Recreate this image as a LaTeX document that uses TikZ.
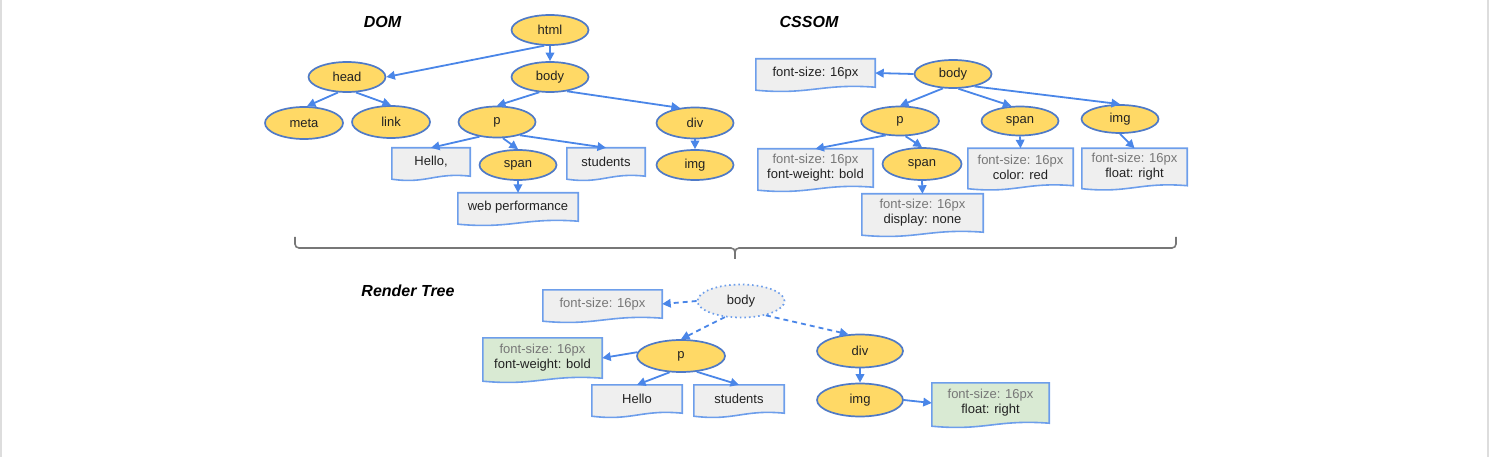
\documentclass[tikz,border=0pt]{standalone}
\usepackage{fontspec}
\setmainfont{Liberation Sans}
\usetikzlibrary{shapes.geometric,arrows.meta,backgrounds,calc}
\definecolor{elfill}{HTML}{FFD966}
\definecolor{eldraw}{HTML}{4F7AC7}
\definecolor{boxdraw}{HTML}{6D9EEB}
\definecolor{boxgrey}{HTML}{EFEFEF}
\definecolor{boxgreen}{HTML}{D9EAD3}
\definecolor{arrblue}{HTML}{4A86E8}
\definecolor{txtgrey}{HTML}{777777}
\definecolor{txtdark}{HTML}{222222}
\definecolor{bracegrey}{HTML}{777777}
\definecolor{edgegrey}{HTML}{DDDDDD}
\begin{document}
\begin{tikzpicture}[x=1pt,y=-1pt,
  font=\fontsize{13}{15}\selectfont, text=txtdark,
  el/.style={ellipse, draw=eldraw, fill=elfill, line width=1.7pt, inner sep=0pt,
    minimum width=77pt, minimum height=30pt},
  docn/.style={rectangle, inner sep=0pt, align=center},
  docshape/.style={draw=boxdraw, line width=1.6pt},
  arr/.style={draw=arrblue, line width=1.8pt, -{Triangle[length=8.5pt,width=8.5pt]}},
  darr/.style={arr, dash pattern=on 5pt off 4pt},
  ttl/.style={font=\fontsize{16}{18}\selectfont\bfseries\itshape, text=black}]
\useasboundingbox (0,0) rectangle (1489,457);
\draw[edgegrey, line width=2pt] (1,0) -- (1,457);
\draw[edgegrey, line width=2pt] (1488,0) -- (1488,457);

% titles
\node[ttl] (tdom) at (382.5,22) {DOM};
\node[ttl] (tcss) at (809,22) {CSSOM};
\node[ttl] (trt) at (408,291) {Render Tree};

% DOM
\node[el] (html) at (550,30) {html};
\node[el] (head) at (347,77) {head};
\node[el] (body) at (550,77) {body};
\node[el, minimum width=78pt, minimum height=32pt] (meta) at (304,123) {meta};
\node[el, minimum width=78pt, minimum height=32pt] (link) at (391,122) {link};
\node[el, minimum height=31pt] (p) at (497,122) {p};
\node[el, minimum height=31pt] (div) at (695,123) {div};
\node[docn, minimum width=78pt, minimum height=28pt] (hello) at (431,162) {Hello,};
\node[el] (span) at (518,165) {span};
\node[docn, minimum width=78pt, minimum height=28pt] (students) at (606,162) {students};
\node[el] (img) at (695,165) {img};
\node[docn, minimum width=120pt, minimum height=28pt] (web) at (518,207) {web performance};

% CSSOM
\node[docn, minimum width=119pt, minimum height=28pt] (cfs) at (815.5,73) {font-size: 16px};
\node[el, minimum height=28pt] (cbody) at (953,74) {body};
\node[el, minimum width=78pt, minimum height=29pt] (cp) at (900,121) {p};
\node[el, minimum height=29pt] (cspan) at (1020,121) {span};
\node[el, minimum height=28pt] (cimg) at (1120,119) {img};
\node[docn, minimum width=115pt, minimum height=38pt] (cfw) at (815.5,168) {\textcolor{txtgrey}{font-size: 16px}\\font-weight: bold};
\node[el, minimum width=79pt, minimum height=32pt] (cspantwo) at (922,164) {span};
\node[docn, minimum width=121pt, minimum height=38pt] (cdisp) at (922.5,213) {\textcolor{txtgrey}{font-size: 16px}\\display: none};
\node[docn, minimum width=105pt, minimum height=37pt] (ccolor) at (1020.5,167) {\textcolor{txtgrey}{font-size: 16px}\\color: red};
\node[docn, minimum width=105pt, minimum height=37pt] (cfloat) at (1134.5,167) {\textcolor{txtgrey}{font-size: 16px}\\float: right};

% Render tree
\node[docn, minimum width=119pt, minimum height=28pt, text=txtgrey] (rfs) at (602.5,304) {font-size: 16px};
\node[el, draw=boxdraw, fill=boxgrey, dash pattern=on 1.6pt off 3pt, minimum width=87pt, minimum height=33pt] (rbody) at (741,301) {body};
\node[docn, minimum width=119pt, minimum height=40pt] (rfw) at (542.5,358) {\textcolor{txtgrey}{font-size: 16px}\\font-weight: bold};
\node[el, minimum width=88pt, minimum height=32pt] (rp) at (681,356) {p};
\node[docn, minimum width=90pt, minimum height=28pt] (rhello) at (637,399) {Hello};
\node[docn, minimum width=90pt, minimum height=28pt] (rstud) at (739,399) {students};
\node[el, minimum width=86pt, minimum height=33pt] (rdiv) at (860,351) {div};
\node[el, minimum width=86pt, minimum height=33pt] (rimg) at (860,400) {img};
\node[docn, minimum width=117pt, minimum height=40pt] (rfloat) at (990.5,403) {\textcolor{txtgrey}{font-size: 16px}\\float: right};

% document shapes
\begin{scope}[on background layer]
\foreach \nm/\fc in {hello/boxgrey,students/boxgrey,web/boxgrey,cfs/boxgrey,cfw/boxgrey,cdisp/boxgrey,ccolor/boxgrey,cfloat/boxgrey,rfs/boxgrey,rfw/boxgreen,rhello/boxgrey,rstud/boxgrey,rfloat/boxgreen}{
  \filldraw[docshape, fill=\fc] let \p1=(\nm.north west), \p2=(\nm.south east) in
    (\x1,\y1) -- (\x2,\y1) -- (\x2,\y2)
    .. controls ({\x2-0.45*(\x2-\x1)},{\y2+4pt}) and ({\x1+0.45*(\x2-\x1)},{\y2-8pt}) .. (\x1,{\y2-3pt}) -- cycle;
}
\end{scope}

% DOM edges
\draw[arr] (html.250) -- (head.east);
\draw[arr] (html.south) -- (body.north);
\draw[arr] (head.240) -- (meta.80);
\draw[arr] (head.300) -- (link.north);
\draw[arr] (body.235) -- (p.north);
\draw[arr] (body.320) -- (div.135);
\draw[arr] (p.220) -- (hello.north);
\draw[arr] (p.290) -- (span.north);
\draw[arr] (p.330) -- (students.north);
\draw[arr] (span.south) -- (web.north);
\draw[arr] (div.south) -- (img.north);

% CSSOM edges
\draw[arr] (cbody.west) -- (cfs.east);
\draw[arr] (cbody.235) -- (cp.north);
\draw[arr] (cbody.290) -- (cspan.120);
\draw[arr] (cbody.330) -- (cimg.north);
\draw[arr] (cp.225) -- (cfw.north);
\draw[arr] (cp.290) -- (cspantwo.north);
\draw[arr] (cspantwo.south) -- (cdisp.north);
\draw[arr] (cspan.south) -- (ccolor.north);
\draw[arr] (cimg.south) -- (cfloat.north);

% brace
\draw[bracegrey, line width=1.6pt, rounded corners=4pt] (295,237) -- (295,248) -- (735,248) -- (735,259);
\draw[bracegrey, line width=1.6pt, rounded corners=4pt] (1176,237) -- (1176,248) -- (735,248) -- (735,259);

% Render tree edges
\draw[darr] (rbody.west) -- (rfs.east);
\draw[darr] (rbody.225) -- (rp.north);
\draw[darr] (rbody.330) -- (rdiv.125);
\draw[arr] (rp.175) -- (rfw.east);
\draw[arr] (rp.235) -- (rhello.north);
\draw[arr] (rp.315) -- (rstud.north);
\draw[arr] (rdiv.south) -- (rimg.north);
\draw[arr] (rimg.east) -- (rfloat.west);
\end{tikzpicture}
\end{document}
